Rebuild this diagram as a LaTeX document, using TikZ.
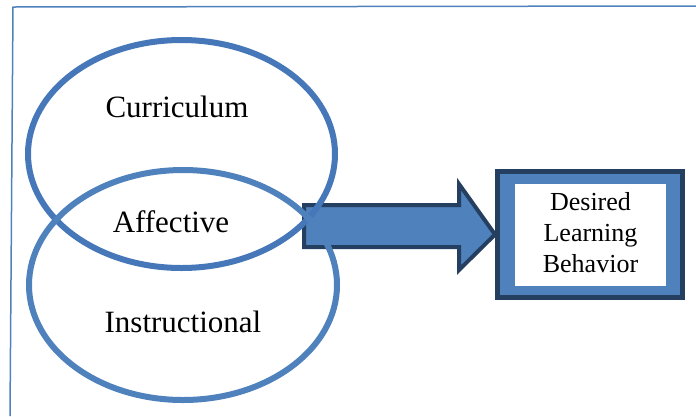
\documentclass[tikz,border=0pt]{standalone}
\usepackage{fontspec}
\setmainfont{Liberation Serif}
\definecolor{ofblue}{HTML}{4F81BD}
\definecolor{topblue}{HTML}{4678B9}
\definecolor{navy}{HTML}{243F60}
\begin{document}
\begin{tikzpicture}[x=1pt,y=-1pt,
  ring/.style={line width=6pt},
  lbl/.style={font=\fontsize{31}{37}\selectfont, inner sep=0pt},
  boxtxt/.style={font=\fontsize{26}{31}\selectfont, align=center, inner sep=0pt}]
\useasboundingbox (0,0) rectangle (696,416);
% frame
\draw[ofblue, line width=1.5pt] (10,416) -- (13,7) -- (696,6);
% outcome box
\node[draw=navy, line width=5pt, fill=ofblue, minimum width=185pt, minimum height=126pt, inner sep=0pt] (box) at (590,234.5) {};
\node[fill=white, minimum width=151pt, minimum height=102pt, inner sep=0pt] (inner) at (590.5,235) {};
\node[boxtxt] (dlb) at (590.5,233) {Desired\\Learning\\Behavior};
% block arrow
\coordinate (tip) at (box.west);
\draw[navy, line width=4pt, fill=ofblue, line join=miter]
  (304,205) -- (459,205) -- (459,184) -- (tip) -- (459,270) -- (459,247) -- (304,247) -- cycle;
% ellipses
\draw[ring, topblue] (181.5,154) ellipse [x radius=153.5pt, y radius=114pt];
\draw[ring, ofblue] (183,285) ellipse [x radius=154pt, y radius=115pt];
% labels
\node[lbl] (cur) at (177,107) {Curriculum};
\node[lbl] (aff) at (171,222) {Affective};
\node[lbl] (ins) at (183,322) {Instructional};
\end{tikzpicture}
\end{document}
